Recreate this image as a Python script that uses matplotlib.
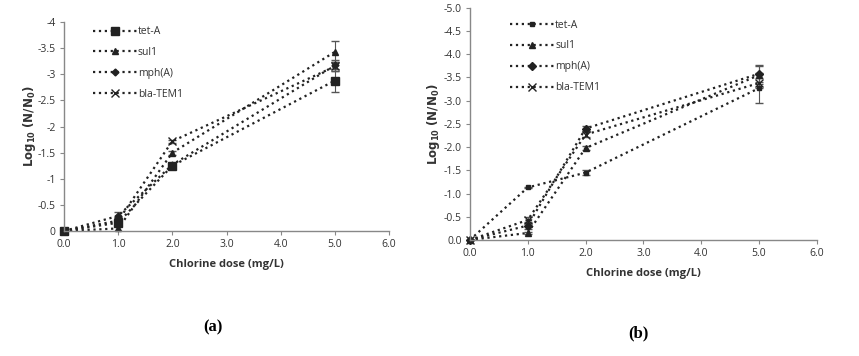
import matplotlib.pyplot as plt
import numpy as np

# chlorine doses (mg/L)
dose = [0, 1, 2, 5]
genes = ['tet-A', 'sul1', 'mph(A)', 'bla-TEM1']

# panel (a): log10(N/N0)
a_tet = [0, -0.16, -1.25, -2.88]
a_sul = [0, -0.05, -1.50, -3.43]
a_mph = [0, -0.29, -1.27, -3.17]
a_bla = [0, -0.20, -1.72, -3.15]
a_tet_err = [0, 0.05, 0.04, 0.22]
a_sul_err = [0, 0.04, 0.04, 0.20]
a_mph_err = [0, 0.07, 0.03, 0.10]
a_bla_err = [0, 0.05, 0.03, 0.08]

# panel (b): log10(N/N0)
b_tet = [0, -1.13, -1.45, -3.27]
b_sul = [0, -0.15, -1.98, -3.55]
b_mph = [0, -0.31, -2.40, -3.58]
b_bla = [0, -0.43, -2.27, -3.38]
b_tet_err = [0, 0.02, 0.05, 0.33]
b_sul_err = [0, 0.03, 0.04, 0.20]
b_mph_err = [0, 0.08, 0.05, 0.18]
b_bla_err = [0, 0.06, 0.05, 0.10]

fig = plt.figure(figsize=(8.59, 3.56), dpi=100)
ax1 = fig.add_axes([0.0745, 0.351, 0.3784, 0.587])
ax2 = fig.add_axes([0.547, 0.326, 0.404, 0.652])

tick_font = dict(family='Open Sans', size=7.5, color='#333333')


def draw(ax, ys, errs, markers, sizes, ymin, yticks, ylabels, leg_pos, ylpad):
    handles = []
    for y, e, m, s, name in zip(ys, errs, markers, sizes, genes):
        c = ax.errorbar(dose, y, yerr=e, color='#222222', ls=':', lw=1.6,
                        marker=m, ms=s, mew=1.0, ecolor='#555555',
                        elinewidth=0.8, capsize=3, capthick=0.8, label=name)
        c.lines[0].set_clip_on(False)
        handles.append(c.lines[0])
    ax.set_xlim(0, 6)
    ax.set_ylim(0, ymin)
    ax.set_xticks(np.arange(0, 7, 1))
    ax.set_xticklabels(['%.1f' % v for v in range(7)], **tick_font)
    ax.set_yticks(yticks)
    ax.set_yticklabels(ylabels, **tick_font)
    for s in ['top', 'right']:
        ax.spines[s].set_visible(False)
    for s in ['left', 'bottom']:
        ax.spines[s].set_color('#888888')
        ax.spines[s].set_linewidth(1.0)
    ax.tick_params(axis='both', length=3, color='#888888', width=0.8, pad=3)
    ax.set_xlabel('Chlorine dose (mg/L)', fontsize=8, fontweight='bold',
                  family='Open Sans', color='#333333', labelpad=6)
    ax.set_ylabel(r'$\mathbf{Log_{10}}$ $\mathbf{(N/N_0)}$', fontsize=8.5,
                  color='#333333', labelpad=ylpad)
    leg = ax.legend(handles, genes, loc='upper left', bbox_to_anchor=leg_pos,
                    frameon=False, handlelength=4.2, labelspacing=0.95,
                    handletextpad=0.1,
                    prop=dict(family='Open Sans', size=7.5))
    for t in leg.get_texts():
        t.set_color('#333333')


draw(ax1, [a_tet, a_sul, a_mph, a_bla],
     [a_tet_err, a_sul_err, a_mph_err, a_bla_err],
     ['s', '^', 'D', 'x'], [6, 5, 3.5, 6],
     -4, np.arange(0, -4.5, -0.5),
     ['0', '-0.5', '-1', '-1.5', '-2', '-2.5', '-3', '-3.5', '-4'],
     (0.06, 1.025), 0)
draw(ax2, [b_tet, b_sul, b_mph, b_bla],
     [b_tet_err, b_sul_err, b_mph_err, b_bla_err],
     ['s', '^', 'D', 'x'], [3.5, 4, 4.5, 6],
     -5, np.arange(0, -5.5, -0.5),
     ['%.1f' % v if v != 0 else '0.0' for v in np.arange(0, -5.5, -0.5)],
     (0.09, 0.99), 1)

fig.text(213 / 859, 1 - 327 / 356, '(a)', family='Liberation Serif',
         fontweight='bold', fontsize=12, ha='center', va='center')
fig.text(638 / 859, 1 - 333 / 356, '(b)', family='Liberation Serif',
         fontweight='bold', fontsize=12, ha='center', va='center')

fig.savefig('out.png', dpi=100)
